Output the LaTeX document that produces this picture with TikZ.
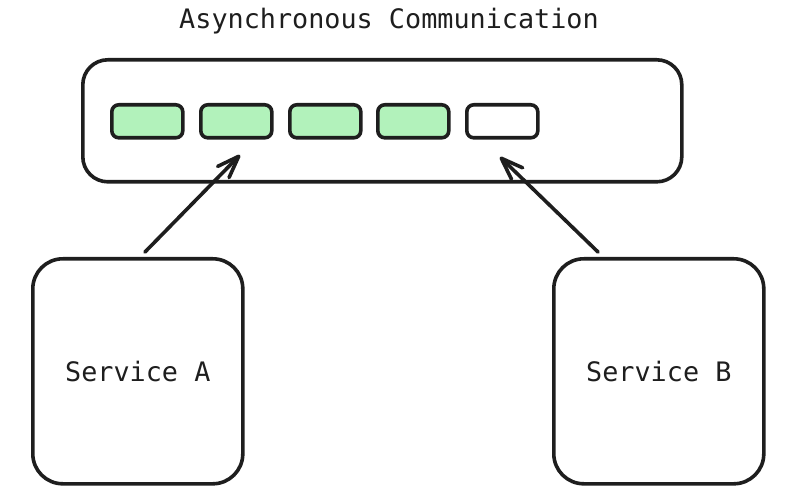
\documentclass[tikz,border=0pt]{standalone}
\usepackage{fontspec}
\setmonofont{DejaVu Sans Mono}
\usetikzlibrary{arrows.meta}
\definecolor{ink}{HTML}{1E1E1E}
\definecolor{slot}{HTML}{B2F2BB}
\begin{document}
\begin{tikzpicture}[x=1pt,y=-1pt,
  slotbox/.style={draw=ink, line width=3.6pt, rounded corners=7pt, minimum width=71pt, minimum height=33pt, inner sep=0pt, anchor=north west},
  svcbox/.style={draw=ink, line width=3.6pt, rounded corners=30pt, minimum width=210pt, minimum height=225pt, inner sep=0pt, anchor=north west, font=\ttfamily\fontsize{26.8}{30}\selectfont, text=ink},
  conn/.style={draw=ink, line width=3.6pt, line cap=round, -{Straight Barb[length=22pt,width=16pt,line width=3.6pt,round]}}
]
\useasboundingbox (0,0) rectangle (790,497);
\node[font=\ttfamily\fontsize{26.8}{30}\selectfont, text=ink] (title) at (389,21) {Asynchronous Communication};
\node[draw=ink, line width=3.6pt, rounded corners=25pt, minimum width=599pt, minimum height=122pt, inner sep=0pt, anchor=north west] (queue) at (81,58) {};
\node[slotbox, fill=slot] (s1) at (110,103) {};
\node[slotbox, fill=slot] (s2) at (199,103) {};
\node[slotbox, fill=slot] (s3) at (288,103) {};
\node[slotbox, fill=slot] (s4) at (376,103) {};
\node[slotbox, fill=white] (s5) at (465,103) {};
\node[svcbox] (A) at (31,257) {Service A};
\node[svcbox] (B) at (552,257) {Service B};
\coordinate (ha) at (240,155);
\coordinate (hb) at (500,157);
\coordinate (ta) at (145,252);
\coordinate (tb) at (598,252);
\draw[conn] (ta) -- (ha);
\draw[conn] (tb) -- (hb);
\end{tikzpicture}
\end{document}
